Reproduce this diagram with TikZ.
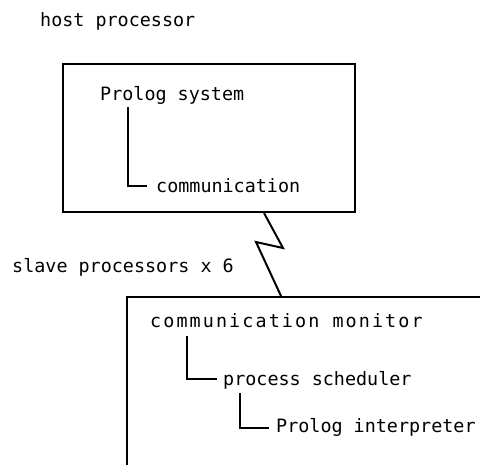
\documentclass[tikz,border=0pt]{standalone}
\usepackage{fontspec}
\setmonofont{DejaVu Sans Mono}
\usetikzlibrary{calc}
\begin{document}
\begin{tikzpicture}[x=1pt,y=1pt,
  lbl/.style={anchor=base west,inner sep=0pt,font=\fontsize{18.4}{22}\ttfamily},
  boxframe/.style={draw,line width=2pt,inner sep=0pt,anchor=north west},
  link/.style={line width=2pt},
  tree/.style={line width=2pt}]
\useasboundingbox (0,0) rectangle (480,-464);
\clip (0,0) rectangle (480,-464);
% boxes
\node[boxframe,minimum width=292pt,minimum height=148pt] (host) at (62,-63) {};
\node[boxframe,minimum width=420pt,minimum height=220pt] (slave) at (126,-296) {};
% labels
\node[lbl] (hp) at (40,-26) {host processor};
\node[lbl] (ps) at (100,-100) {Prolog system};
\node[lbl] (comm) at (156,-192) {communication};
\node[lbl] (sp) at (12,-272) {slave processors x 6};
\node[lbl] (cm) at (150,-327) {\addfontfeature{LetterSpace=11.4}communication monitor};
\node[lbl] (sched) at (223,-385) {process scheduler};
\node[lbl] (interp) at (276,-432) {Prolog interpreter};
% tree connectors
\draw[tree] ($(ps.base west)+(28,-7)$) |- ($(comm.base west)+(-9,6)$);
\draw[tree] ($(cm.base west)+(37,-9)$) |- ($(sched.base west)+(-6,6)$);
\draw[tree] ($(sched.base west)+(17,-8)$) |- ($(interp.base west)+(-7,4)$);
% zigzag link
\coordinate (z1) at (283,-248);
\coordinate (z2) at (256,-242);
\draw[link,line join=miter] ($(host.south west)+(202,0)$) -- (z1) -- (z2) -- ($(slave.north west)+(155,0)$);
\end{tikzpicture}
\end{document}
